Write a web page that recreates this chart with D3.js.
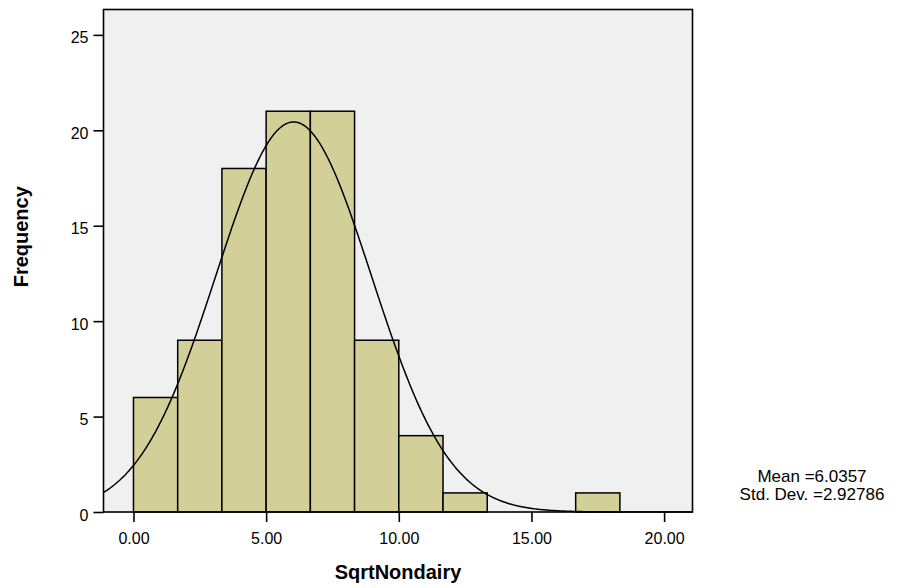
<!DOCTYPE html>
<html>
<head>
<meta charset="utf-8">
<script src="https://cdn.jsdelivr.net/npm/d3@7"></script>
<style>
  html, body { margin: 0; padding: 0; background: #ffffff; }
  svg { display: block; font-family: "Liberation Sans", Arial, sans-serif; }
</style>
</head>
<body>
<svg id="chart" width="900" height="588"></svg>
<script>
// Histogram bins of SqrtNondairy (width 5/3) and their counts
const binStarts = [0, 5/3, 10/3, 5, 20/3, 25/3, 10, 35/3, 40/3, 15, 50/3];
const binWidth = 5/3;
const counts = [6, 9, 18, 21, 21, 9, 4, 1, 0, 0, 1];

// Summary statistics shown beside the chart
const mean = 6.0357;
const stdDev = 2.92786;

const xTicks = [0, 5, 10, 15, 20];
const yTicks = [0, 5, 10, 15, 20, 25];

const svg = d3.select("#chart");
const plot = { left: 103.5, right: 692.5, top: 9.5, bottom: 512 };

const x = d3.scaleLinear().domain([-1.13, 21.07]).range([plot.left, plot.right]);
const y = d3.scaleLinear().domain([0, 26.33]).range([plot.bottom, plot.top]);

// plot background
svg.append("rect")
  .attr("x", plot.left).attr("y", plot.top)
  .attr("width", plot.right - plot.left).attr("height", plot.bottom - plot.top)
  .attr("fill", "#f0f0f0");

// bars
const bins = binStarts.map((s, i) => ({ x0: s, x1: s + binWidth, n: counts[i] })).filter(d => d.n > 0);
svg.append("g").selectAll("rect").data(bins).join("rect")
  .attr("x", d => x(d.x0))
  .attr("y", d => y(d.n))
  .attr("width", d => x(d.x1) - x(d.x0))
  .attr("height", d => y(0) - y(d.n))
  .attr("fill", "#d3cf98")
  .attr("stroke", "#000")
  .attr("stroke-width", 1.5);

// fitted normal curve, scaled to counts per bin
const total = d3.sum(counts);
const normal = v => total * binWidth / (stdDev * Math.sqrt(2 * Math.PI)) *
  Math.exp(-((v - mean) ** 2) / (2 * stdDev * stdDev));
const [d0, d1] = x.domain();
const samples = d3.range(0, 401).map(i => d0 + (d1 - d0) * i / 400);
svg.append("path")
  .datum(samples)
  .attr("fill", "none")
  .attr("stroke", "#000")
  .attr("stroke-width", 1.5)
  .attr("d", d3.line().x(v => x(v)).y(v => y(normal(v))));

// frame
svg.append("rect")
  .attr("x", plot.left).attr("y", plot.top)
  .attr("width", plot.right - plot.left).attr("height", plot.bottom - plot.top)
  .attr("fill", "none").attr("stroke", "#000").attr("stroke-width", 1.6);

// axes
const xAxis = d3.axisBottom(x).tickValues(xTicks).tickSize(10).tickPadding(11)
  .tickFormat(d3.format(".2f"));
const gx = svg.append("g").attr("transform", `translate(0,${plot.bottom})`).call(xAxis);
const yAxis = d3.axisLeft(y).tickValues(yTicks).tickSize(10).tickPadding(5)
  .tickFormat(d3.format("d"));
const gy = svg.append("g").attr("transform", `translate(${plot.left},0)`).call(yAxis);
[gx, gy].forEach(g => {
  g.attr("font-size", 16).attr("font-family", "'Liberation Sans', Arial, sans-serif");
  g.select(".domain").remove();
  g.selectAll(".tick line").attr("stroke", "#000").attr("stroke-width", 1.6);
  g.selectAll(".tick text").attr("fill", "#000");
});
gy.selectAll(".tick text").attr("dy", "0.5em");

// axis titles
svg.append("text")
  .attr("x", (plot.left + plot.right) / 2).attr("y", 579)
  .attr("text-anchor", "middle")
  .style("font-size", "20px").style("font-weight", "bold")
  .text("SqrtNondairy");
svg.append("text")
  .attr("transform", `translate(27.5,${(plot.top + plot.bottom) / 2 - 24}) rotate(-90)`)
  .attr("text-anchor", "middle")
  .style("font-size", "20px").style("font-weight", "bold")
  .text("Frequency");

// statistics note
const notes = [`Mean =${mean}`, `Std. Dev. =${stdDev}`];
svg.append("g").selectAll("text").data(notes).join("text")
  .attr("x", 812)
  .attr("y", (d, i) => 482 + i * 18)
  .attr("text-anchor", "middle")
  .style("font-size", "17px")
  .text(d => d);
</script>
</body>
</html>
